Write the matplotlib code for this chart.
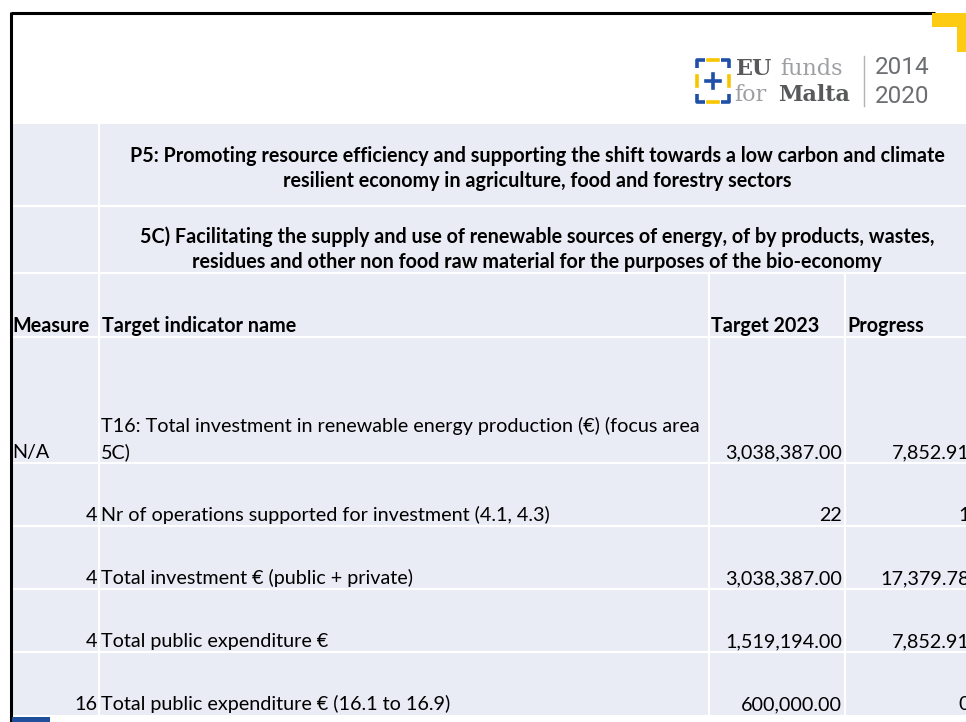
import matplotlib
matplotlib.use("Agg")
import matplotlib.pyplot as plt
from matplotlib.patches import Rectangle, Polygon

# ---- table content ----
priority_title = ["P5: Promoting resource efficiency and supporting the shift towards a low carbon and climate",
                  "resilient economy in agriculture, food and forestry sectors"]
focus_title = ["5C) Facilitating the supply and use of renewable sources of energy, of by products, wastes,",
               "residues and other non food raw material for the purposes of the bio-economy"]
col_headers = ["Measure", "Target indicator name", "Target 2023", "Progress"]

measures = ["N/A", "4", "4", "4", "16"]
indicators = [["T16: Total investment in renewable energy production (\u20ac) (focus area", "5C)"],
              ["Nr of operations supported for investment (4.1, 4.3)"],
              ["Total investment \u20ac (public + private)"],
              ["Total public expenditure \u20ac"],
              ["Total public expenditure \u20ac (16.1 to 16.9)"]]
targets = ["3,038,387.00", "22", "3,038,387.00", "1,519,194.00", "600,000.00"]
progress = ["7,852.91", "1", "17,379.78", "7,852.91", "0"]

# ---- layout (pixels, origin top-left) ----
W, H = 966, 722
row_edges = [124, 206, 273, 337, 463, 526, 589, 652, 715]
col_edges = [12, 99, 709, 845, 975]
cell_bg = "#E9EBF5"
FONT = "Lato"
FS = 14.2
LINE = 26


def draw_frame(ax):
    """slide frame, corner mark"""
    ax.plot([11, 935], [13, 13], color="black", lw=2.2, solid_capstyle="butt", zorder=5)
    ax.plot([11, 11], [12, 722], color="black", lw=2.2, solid_capstyle="butt", zorder=5)
    # yellow corner
    corner = Polygon([(932, 13), (966, 13), (966, 52), (957, 52), (957, 27), (932, 27)],
                     closed=True, facecolor="#FDCB12", edgecolor="none", zorder=6)
    ax.add_patch(corner)
    # blue bit at the bottom left
    ax.add_patch(Rectangle((12, 717), 38, 6, facecolor="#1F4E9B", edgecolor="none", zorder=6))


def draw_logo(ax):
    """EU funds for Malta 2014-2020"""
    blue, yellow = "#1F4FA8", "#F7C600"
    x0, y0, s = 697, 60, 32
    seg = [
        # corners (blue)
        ((x0, y0 + 8), (x0, y0), (x0 + 8, y0), blue),
        ((x0 + s - 8, y0), (x0 + s, y0), (x0 + s, y0 + 8), blue),
        ((x0, y0 + s + 2), (x0, y0 + s + 10), (x0 + 8, y0 + s + 10), blue),
        ((x0 + s - 8, y0 + s + 10), (x0 + s, y0 + s + 10), (x0 + s, y0 + s + 2), blue),
    ]
    for a, b, c, col in seg:
        ax.plot([a[0], b[0], c[0]], [a[1], b[1], c[1]], color=col, lw=2.6, solid_capstyle="butt")
    # middle dashes (yellow) and plus
    cx, cy = x0 + s / 2, y0 + (s + 10) / 2
    ax.plot([cx - 5, cx + 5], [y0, y0], color=yellow, lw=2.6)
    ax.plot([cx - 5, cx + 5], [y0 + s + 10, y0 + s + 10], color=yellow, lw=2.6)
    ax.plot([x0, x0], [cy - 5, cy + 5], color=yellow, lw=2.6)
    ax.plot([x0 + s, x0 + s], [cy - 5, cy + 5], color=yellow, lw=2.6)
    ax.plot([cx - 7, cx + 7], [cy, cy], color=blue, lw=2.6)
    ax.plot([cx, cx], [cy - 7, cy + 7], color=blue, lw=2.6)

    dark, light = "#58595B", "#9D9FA2"
    ax.text(736, 75, "EU", fontsize=16, family="DejaVu Serif", weight="bold", color=dark, va="baseline")
    ax.text(780, 75, "funds", fontsize=16, family="DejaVu Serif", color=light, va="baseline")
    ax.text(734, 101, "for", fontsize=16, family="DejaVu Serif", color=light, va="baseline")
    ax.text(778, 101, "Malta", fontsize=16, family="DejaVu Serif", weight="bold", color=dark, va="baseline")
    ax.plot([864, 864], [56, 106], color="#B0B2B5", lw=1)
    ax.text(875, 74, "2014", fontsize=17.5, family="Roboto", color="#6D6E71", va="baseline")
    ax.text(875, 103, "2020", fontsize=17.5, family="Roboto", color="#6D6E71", va="baseline")


def draw_table(ax):
    """table background, white grid and all texts"""
    x_left, x_right = col_edges[0], col_edges[-1]
    ax.add_patch(Rectangle((x_left, row_edges[0]), x_right - x_left, row_edges[-1] - row_edges[0],
                           facecolor=cell_bg, edgecolor="none", zorder=1))
    for y in row_edges[1:-1]:
        ax.plot([x_left, x_right], [y, y], color="white", lw=1.6, zorder=2)
    ax.plot([col_edges[1], col_edges[1]], [row_edges[0], row_edges[-1]], color="white", lw=1.6, zorder=2)
    for x in col_edges[2:4]:
        ax.plot([x, x], [row_edges[2], row_edges[-1]], color="white", lw=1.6, zorder=2)

    # merged title rows
    mid = (col_edges[1] + x_right) / 2
    for i, line in enumerate(priority_title):
        ax.text(mid, 162 + i * 25, line, ha="center", va="baseline", fontsize=FS,
                family=FONT, weight="bold", color="black", zorder=3)
    for i, line in enumerate(focus_title):
        ax.text(mid, 243 + i * 25, line, ha="center", va="baseline", fontsize=FS,
                family=FONT, weight="bold", color="black", zorder=3)

    # column headers
    base = row_edges[3] - 5
    starts = [12, 102, 711, 847]
    for x, name in zip(starts, col_headers):
        ax.text(x, base, name, ha="left", va="baseline", fontsize=FS, family=FONT,
                weight="bold", color="black", zorder=3)

    # data rows
    for r in range(len(measures)):
        base = row_edges[4 + r] - 5
        m = measures[r]
        if m.isdigit():
            ax.text(97, base, m, ha="right", va="baseline", fontsize=FS, family=FONT, zorder=3)
        else:
            ax.text(12, base, m, ha="left", va="baseline", fontsize=FS, family=FONT, zorder=3)
        lines = indicators[r]
        for k, line in enumerate(lines):
            ax.text(101, base - (len(lines) - 1 - k) * LINE, line, ha="left", va="baseline",
                    fontsize=FS, family=FONT, zorder=3)
        ax.text(842, base, targets[r], ha="right", va="baseline", fontsize=FS, family=FONT, zorder=3)
        # progress column runs past the slide edge, as in the source
        ax.text(970, base, progress[r], ha="right", va="baseline", fontsize=FS, family=FONT, zorder=3)


fig = plt.figure(figsize=(W / 100, H / 100), dpi=100)
ax = fig.add_axes([0, 0, 1, 1])
ax.set_xlim(0, W)
ax.set_ylim(H, 0)
ax.axis("off")

draw_table(ax)
draw_frame(ax)
draw_logo(ax)

fig.savefig("out.png", dpi=100, facecolor="white")
